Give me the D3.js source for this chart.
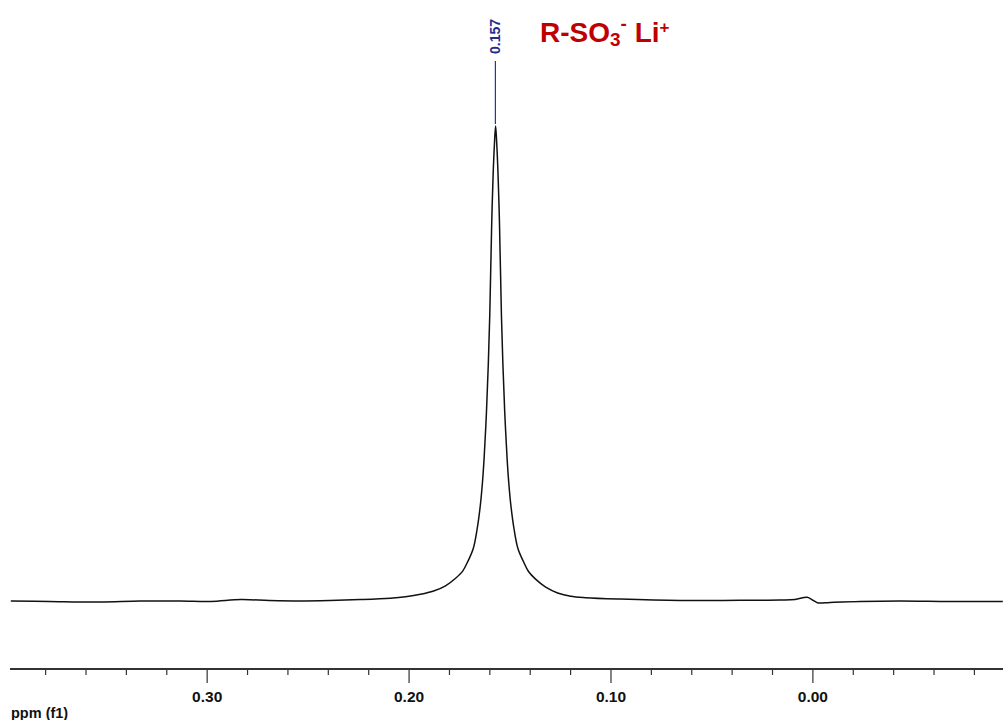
<!DOCTYPE html>
<html>
<head>
<meta charset="utf-8">
<script src="https://cdn.jsdelivr.net/npm/d3@7"></script>
<style>
  html, body { margin: 0; padding: 0; background: #ffffff; }
  svg { display: block; }
</style>
</head>
<body>
<svg id="chart" width="1003" height="720"></svg>
<script>
// ---- data ----
const ppm = [0.397, 0.378, 0.353, 0.333, 0.313, 0.298, 0.283, 0.269, 0.254, 0.239, 0.224, 0.209,
  0.2015, 0.1941, 0.1876, 0.1817, 0.1767, 0.1732, 0.1708, 0.1680, 0.1661, 0.1645, 0.1634, 0.1626,
  0.1614, 0.1605, 0.1598, 0.1593, 0.1588, 0.1581, 0.1575,
  0.1569,
  0.1563, 0.1557, 0.1550, 0.1545, 0.1540, 0.1533, 0.1524, 0.1512, 0.1504, 0.1493, 0.1477, 0.1458,
  0.1430, 0.1406, 0.1371, 0.1321, 0.1262, 0.1197, 0.1123,
  0.0952, 0.0655, 0.0358, 0.0160, 0.0086, 0.0026, -0.0005, -0.0028, -0.0088, -0.0236, -0.0434,
  -0.0682, -0.0943];
const intensity = [0, -0.1, -0.2, 0, 0, -0.1, 0.3, 0.1, 0, 0.1, 0.3, 0.6,
  0.9, 1.4, 2.1, 3.2, 4.8, 6.3, 8.2, 11.0, 15.0, 20.0, 25.0, 30.0,
  40.0, 50.0, 60.0, 70.0, 80.0, 90.0, 96.0,
  100,
  96.0, 90.0, 80.0, 70.0, 60.0, 50.0, 40.0, 30.0, 25.0, 20.0, 15.0, 11.0,
  8.2, 6.2, 4.6, 2.9, 1.7, 1.0, 0.7,
  0.4, 0.1, 0.15, 0.2, 0.3, 0.8, 0.1, -0.4, -0.3, -0.1, 0,
  -0.1, -0.1];
const majorTicks = [0.30, 0.20, 0.10, 0.00];
const majorLabels = ["0.30", "0.20", "0.10", "0.00"];
const minorTicks = [0.38, 0.36, 0.34, 0.32, 0.28, 0.26, 0.24, 0.22, 0.18, 0.16, 0.14, 0.12,
  0.08, 0.06, 0.04, 0.02, -0.02, -0.04, -0.06, -0.08];
const peakPpm = 0.157;
const peakLabel = "0.157";
const axisTitle = "ppm (f1)";

// ---- scales ----
const svg = d3.select("#chart");
const x = d3.scaleLinear().domain([0.3974, -0.0944]).range([10, 1003]);
const y = d3.scaleLinear().domain([0, 100]).range([601, 126]);
const font = "'Liberation Sans', Arial, Helvetica, sans-serif";

// ---- spectrum ----
const pts = ppm.map((p, i) => [p, intensity[i]]);
const line = d3.line().x(d => x(d[0])).y(d => y(d[1])).curve(d3.curveCatmullRom.alpha(0.5));
svg.append("path")
  .datum(pts)
  .attr("d", line)
  .attr("fill", "none")
  .attr("stroke", "#111")
  .attr("stroke-width", 1.5)
  .attr("stroke-linejoin", "round");

// ---- axis ----
const axisY = 669;
const gMinor = svg.append("g").attr("transform", `translate(0,${axisY})`)
  .call(d3.axisBottom(x).tickValues(minorTicks).tickSize(6).tickSizeOuter(0).tickFormat(""));
gMinor.select(".domain").remove();
gMinor.selectAll("line").attr("stroke", "#333").attr("stroke-width", 1.2);

const gMajor = svg.append("g").attr("transform", `translate(0,${axisY})`)
  .call(d3.axisBottom(x).tickValues(majorTicks).tickSize(14).tickSizeOuter(0)
    .tickFormat((d, i) => majorLabels[i]));
gMajor.select(".domain").remove();
gMajor.selectAll("line").attr("stroke", "#333").attr("stroke-width", 1.2);
gMajor.selectAll("text")
  .attr("y", 0).attr("dy", null)
  .attr("transform", "translate(0,33)")
  .attr("fill", "#111")
  .style("font-family", font).style("font-weight", "bold").style("font-size", "15.5px");

svg.append("line")
  .attr("x1", x.range()[0]).attr("x2", x.range()[1])
  .attr("y1", axisY).attr("y2", axisY)
  .attr("stroke", "#333").attr("stroke-width", 2);

svg.append("text")
  .attr("x", 11).attr("y", 718)
  .attr("fill", "#111")
  .style("font-family", font).style("font-weight", "bold").style("font-size", "14.5px")
  .text(axisTitle);

// ---- peak annotation ----
const px = x(peakPpm);
svg.append("line")
  .attr("x1", px).attr("x2", px)
  .attr("y1", 61).attr("y2", y(100) - 2)
  .attr("stroke", "#2535a5").attr("stroke-width", 1.2);
svg.append("text")
  .attr("transform", `translate(${px + 5},54) rotate(-90)`)
  .attr("text-anchor", "start")
  .attr("fill", "#1f2d90")
  .style("font-family", font).style("font-weight", "bold").style("font-size", "14px")
  .text(peakLabel);

// ---- title ----
const t = svg.append("text")
  .attr("x", 540).attr("y", 42)
  .attr("fill", "#c00000")
  .style("font-family", font).style("font-weight", "bold").style("font-size", "28px");
t.append("tspan").text("R-SO");
t.append("tspan").attr("dy", 4).style("font-size", "19px").text("3");
t.append("tspan").attr("dy", -16).style("font-size", "19px").text("-");
t.append("tspan").attr("dy", 12).text(" Li");
t.append("tspan").attr("dy", -9).style("font-size", "17px").text("+");
</script>
</body>
</html>
